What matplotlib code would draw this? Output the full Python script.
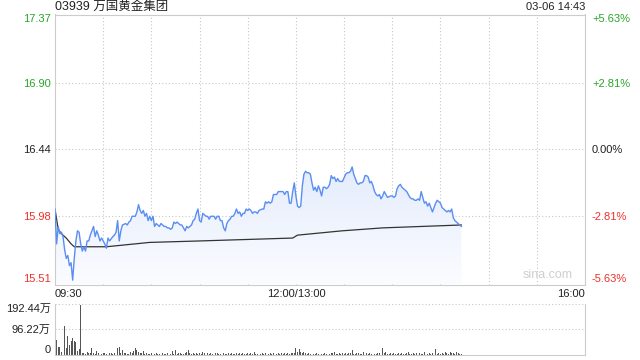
#!/usr/bin/env python3
"""
Intraday chart for 03939, 03-06.
"""

import numpy as np
import matplotlib.pyplot as plt
from matplotlib.colors import LinearSegmentedColormap
from matplotlib.transforms import blended_transform_factory

plt.rcParams['font.family'] = ['Liberation Sans', 'Noto Sans CJK SC', 'DejaVu Sans']

title = "03939 万国黄金集团"
stamp = "03-06 14:43"
prev_close = 16.44
price_levels = [17.37, 16.90, 16.44, 15.98, 15.51]
pct_labels = ["+5.63%", "+2.81%", "0.00%", "-2.81%", "-5.63%"]
level_colors = ["#2aa52a", "#2aa52a", "#222222", "#f0302a", "#f0302a"]
x_labels = ["09:30", "12:00/13:00", "16:00"]
x_label_pos = [0, 150, 330]
vol_levels = [0, 96.22, 192.44]
vol_labels = ["0", "96.22万", "192.44万"]

# minutes since 09:30 (lunch break removed), price
t_price = (list(range(0, 6)) + list(range(6, 35)) + list(range(36, 43))
           + list(range(44, 59))
           + list(range(59, 93)) + list(range(94, 128))
           + list(range(129, 180)) + list(range(181, 208))
           + list(range(209, 236)) + list(range(237, 254)))
price = [
    16.03, 15.79, 15.91, 15.86, 15.87, 15.84,
    15.75, 15.69, 15.71, 15.64, 15.66, 15.54, 15.69, 15.81, 15.88, 15.87,
    15.79, 15.74, 15.77, 15.74, 15.81, 15.81, 15.85, 15.88, 15.91, 15.84,
    15.88, 15.85, 15.81, 15.83, 15.81, 15.79, 15.76, 15.83, 15.81,
    15.84, 15.85, 15.87, 15.95, 15.81, 15.88, 15.92, 15.93, 15.92, 15.94,
    15.95, 15.98, 15.98, 15.98, 16.01, 16.06, 16.02, 16.00, 16.02, 15.98,
    16.00, 15.95,
    15.98, 15.95, 15.98, 15.91, 15.93, 15.92, 15.91, 15.93, 15.92, 15.91,
    15.91, 15.90, 15.90, 15.89, 15.90, 15.94, 15.93, 15.94, 15.93, 15.92,
    15.92, 15.90, 15.88, 15.91, 15.90, 15.91, 15.92, 15.95, 15.96, 16.00,
    16.03, 15.95, 15.94, 16.00,
    15.98, 15.98, 15.96, 15.98, 15.98, 15.98, 15.96, 15.98, 15.98, 15.95,
    15.95, 15.90, 15.88, 15.93, 15.95, 15.96, 15.98, 15.98, 16.00, 16.03,
    16.00, 16.01, 15.98, 16.00, 16.00, 16.03, 16.02, 16.03, 16.02, 16.00,
    16.01, 16.01, 16.00, 16.02,
    16.03, 16.03, 16.08, 16.07, 16.08, 16.07, 16.08, 16.13, 16.13, 16.13,
    16.15, 16.15, 16.15, 16.15, 16.13, 16.15, 16.15, 16.07, 16.07, 16.15,
    16.21, 16.12, 16.05, 16.04, 16.05, 16.19, 16.27, 16.29, 16.28, 16.28,
    16.27, 16.21, 16.16, 16.18, 16.15, 16.19, 16.16, 16.12, 16.18, 16.18,
    16.17, 16.18, 16.20, 16.26, 16.24, 16.25, 16.22, 16.24, 16.22, 16.22,
    16.22,
    16.27, 16.28, 16.28, 16.29, 16.32, 16.27, 16.24, 16.21, 16.20, 16.21,
    16.21, 16.22, 16.26, 16.26, 16.25, 16.21, 16.22, 16.19, 16.15, 16.13,
    16.12, 16.13, 16.10, 16.12, 16.15, 16.13, 16.11,
    16.12, 16.12, 16.11, 16.12, 16.17, 16.19, 16.20, 16.18, 16.17, 16.16,
    16.15, 16.13, 16.11, 16.10, 16.10, 16.09, 16.09, 16.10, 16.09, 16.15,
    16.11, 16.07, 16.08, 16.05, 16.07, 16.04, 16.01,
    16.07, 16.09, 16.08, 16.07, 16.04, 16.03, 16.02, 16.01, 16.02, 16.01,
    16.03, 15.97, 15.95, 15.94, 15.93, 15.92, 15.91,
]

t_avg = [0, 2, 4, 7, 10, 12, 32, 59, 90, 119, 148, 151, 179, 204, 253]
avg_price = [16.03, 15.89, 15.86, 15.83, 15.79, 15.77, 15.77, 15.80, 15.81,
             15.82, 15.83, 15.85, 15.88, 15.90, 15.92]

# volume per minute, in 万
volume = [
    25, 57, 29, 30, 12, 150, 109, 25, 71, 37, 52, 65, 52, 48, 15, 22, 190,
    8, 6, 4, 10, 8, 5, 25, 8, 4, 13, 6, 10, 4, 6, 8, 4, 9, 5, 6, 3, 5, 15,
    25, 28, 5, 19, 6, 6, 4, 3, 9, 5, 15, 25, 19, 9, 5, 6, 13, 4, 6, 4, 3,
    5, 3, 4, 6, 4, 3, 5, 6, 4, 4, 6, 3, 3, 13, 4, 19, 3, 5, 6, 4, 3, 5, 9,
    19,
    5, 4, 6, 3, 5, 4, 7, 3, 12, 5,
    4, 6, 3, 5, 4, 3, 6, 5, 4, 3,
    5, 8, 4, 3, 6, 4, 5, 3, 4, 6,
    3, 5, 4, 6, 3, 4, 5, 3, 6, 4,
    9, 4, 3, 5, 4, 6, 3, 5, 4, 3,
    5, 4, 6, 3, 4, 5, 3, 6, 4, 5,
    3, 5, 4, 6, 5, 8, 25, 10, 20, 12,
    6, 10, 5, 4, 6, 3, 5, 4, 3, 6,
    4, 5, 3, 4, 6, 3, 5, 4, 6, 5,
    12, 4, 3, 5, 4, 6, 3, 5, 4, 6,
    5, 16, 4, 3, 5, 6, 4, 3, 10, 4,
    5, 3, 6, 4, 5, 3, 4, 6, 5, 8,
    24, 6, 12, 4, 3, 5, 4, 6, 3, 4,
    5, 3, 6, 4, 3, 5, 9, 4, 3, 5,
    4, 6, 3, 5, 4, 3, 9, 5, 4, 6,
    3, 5, 6, 20, 4, 5, 3, 6, 4, 10,
    5, 4, 9, 5, 6, 4, 12, 5, 4, 3,
]

grid_kw = dict(color="#c8c8c8", lw=0.8, ls=(0, (1, 2)))
spine_color = "#cccccc"

fig = plt.figure(figsize=(6.4, 3.6), dpi=100)
ax = fig.add_axes([55 / 640, 1 - 284.5 / 360, 530 / 640, 270 / 360])
ax.set_xlim(0, 330)
ax.set_ylim(price_levels[-1], price_levels[0])

for m in range(30, 330, 30):
    ax.axvline(m, **grid_kw, zorder=0)
for lv in price_levels[1:-1]:
    ax.axhline(lv, **grid_kw, zorder=0)

# gradient fill under the price line
fill = ax.fill_between(t_price, price, price_levels[-1], color="none")
grad = np.linspace(0, 1, 256).reshape(-1, 1)
cmap = LinearSegmentedColormap.from_list("g", ["#e4ecfc", "#fbfcff"])
img = ax.imshow(grad, cmap=cmap, aspect="auto",
                extent=[0, 330, price_levels[-1], max(price)],
                origin="upper", zorder=1)
img.set_clip_path(fill.get_paths()[0], transform=ax.transData)
ax.set_xlim(0, 330)
ax.set_ylim(price_levels[-1], price_levels[0])

ax.plot(t_avg, avg_price, color="#333333", lw=0.9, zorder=2)
ax.plot(t_price, price, color="#5a8ef2", lw=1.0, zorder=3)

for s in ax.spines.values():
    s.set_color(spine_color)
ax.tick_params(length=0, labelsize=8, pad=3)
ax.set_xticks([])
ax.set_yticks(price_levels)
ax.set_yticklabels([f"{v:.2f}" for v in price_levels])
for lab, c in zip(ax.get_yticklabels(), level_colors):
    lab.set_color(c)
ax.get_yticklabels()[0].set_va("top")
ax.get_yticklabels()[-1].set_va("bottom")

ax2 = ax.twinx()
ax2.set_ylim(ax.get_ylim())
ax2.set_yticks(price_levels)
ax2.set_yticklabels(pct_labels)
ax2.tick_params(length=0, labelsize=8, pad=5)
for lab, c in zip(ax2.get_yticklabels(), level_colors):
    lab.set_color(c)
ax2.get_yticklabels()[0].set_va("top")
ax2.get_yticklabels()[-1].set_va("bottom")
for s in ax2.spines.values():
    s.set_visible(False)

tr = blended_transform_factory(ax.transData, ax.transAxes)
for lab, pos, ha in zip(x_labels, x_label_pos, ["left", "center", "right"]):
    ax.text(pos, -0.018, lab, transform=tr, ha=ha, va="top", fontsize=8,
            color="#222222")

ax.text(0.93, 0.012, "sina.com", transform=ax.transAxes, ha="center",
        va="bottom", fontsize=9, color="#cfcfcf")

fig.text(55 / 640, 1 - 7 / 360, title, ha="left", va="center", fontsize=9,
         color="#222222")
fig.text(585 / 640, 1 - 7 / 360, stamp, ha="right", va="center", fontsize=8,
         color="#222222")

# volume panel
axv = fig.add_axes([55 / 640, 1 - 354.7 / 360, 530 / 640, 50.7 / 360])
axv.set_xlim(0, 330)
axv.set_ylim(0, vol_levels[-1])
axv.bar(np.arange(len(volume)), volume, width=0.55, color="#555555", zorder=2)
axv.axhline(vol_levels[1], **grid_kw, zorder=0)
axv.axhline(vol_levels[2], **grid_kw, zorder=0)
for side in ["left", "right", "bottom"]:
    axv.spines[side].set_color(spine_color)
axv.spines["top"].set_visible(False)
axv.set_xticks([])
axv.set_yticks(vol_levels)
axv.set_yticklabels(vol_labels)
axv.tick_params(length=0, labelsize=8, pad=3, labelcolor="#222222")
axv.get_yticklabels()[0].set_va("bottom")
axv.get_yticklabels()[-1].set_va("top")

plt.savefig("out.png", dpi=100)
